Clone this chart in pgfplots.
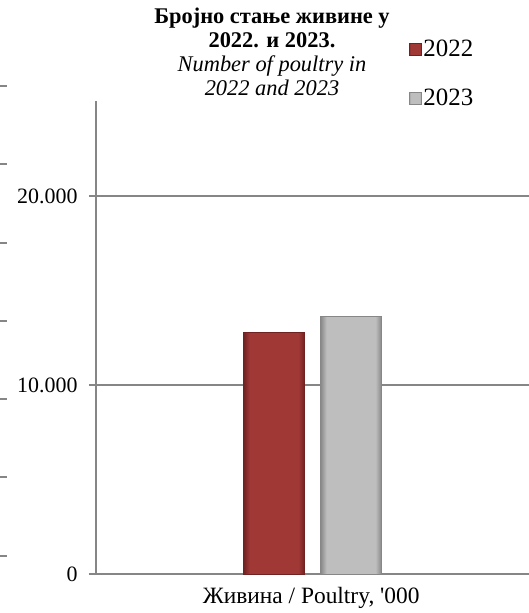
\documentclass[border=0pt]{standalone}
\usepackage{pgfplots}
\pgfplotsset{compat=1.18}
\usepackage{fontspec}
\setmainfont{Liberation Serif}
\definecolor{gridgray}{RGB}{134,134,134}
\definecolor{redmain}{RGB}{160,56,54}
\definecolor{rededge}{RGB}{112,34,34}
\definecolor{graymain}{RGB}{190,190,190}
\definecolor{grayedge}{RGB}{135,135,135}
\pgfdeclarehorizontalshading{redbevel}{100bp}{color(0bp)=(rededge); color(25bp)=(rededge); color(30bp)=(redmain); color(70bp)=(redmain); color(75bp)=(rededge); color(100bp)=(rededge)}
\pgfdeclarehorizontalshading{graybevel}{100bp}{color(0bp)=(grayedge); color(25bp)=(grayedge); color(30bp)=(graymain); color(70bp)=(graymain); color(75bp)=(grayedge); color(100bp)=(grayedge)}
\begin{document}
\begin{tikzpicture}
\path[use as bounding box] (-96bp,-39bp) rectangle (433bp,574bp);
\begin{axis}[
  at={(0,0)}, anchor=south west,
  scale only axis, width=433bp, height=472.5bp,
  xmin=-1, xmax=1, ymin=0, ymax=25000,
  ytick={0,10000,20000}, xtick=\empty,
  scaled y ticks=false,
  /pgf/number format/.cd, 1000 sep={.}, assume math mode=true, /pgfplots/.cd,
  axis x line=bottom, axis y line=left,
  axis line style={-, draw=gridgray, line width=1.5bp},
  ymajorgrids, grid style={draw=gridgray, line width=1.5bp},
  ytick style={draw=gridgray, line width=1.5bp},
  major tick length=7bp, tick align=outside,
  yticklabel style={font=\fontsize{22}{26}\selectfont, xshift=-8bp},
  xlabel={Живина / Poultry, \textquotesingle 000},
  xlabel style={at={(axis description cs:0.497,0)}, anchor=center, yshift=-24bp, font=\fontsize{23.5}{27}\selectfont},
  legend image code/.code={\path[#1] (0bp,-6bp) rectangle (12bp,6bp);},
  legend style={draw=none, fill=none, at={(axis description cs:0.722,1.134)}, anchor=north west,
    font=\fontsize{25}{29}\selectfont, row sep=27bp, inner sep=0pt,
    /tikz/every even column/.append style={column sep=3bp}},
  legend cell align=left,
  clip=false,
]
\addplot[ybar, bar width=61bp, bar shift=-38.5bp, draw=rededge, line width=0.6bp,
  shading=redbevel] coordinates {(0,12800)};
\addplot[ybar, bar width=61bp, bar shift=38.5bp, draw=grayedge, line width=0.6bp,
  shading=graybevel] coordinates {(0,13650)};
\legend{2022,2023}
\node[align=center, font=\fontsize{22.5}{24}\selectfont] at (axis description cs:0.4065,1.1048)
  {\textbf{Бројно стање живине у}\\\textbf{2022. и 2023.}\\\textit{Number of poultry in}\\\textit{2022 and 2023}};
\end{axis}
\foreach \yy in {488,410,331,253,175,97,18}
  \draw[gridgray, line width=1.5bp] (-96bp,\yy bp) -- (-89bp,\yy bp);
\end{tikzpicture}
\end{document}
